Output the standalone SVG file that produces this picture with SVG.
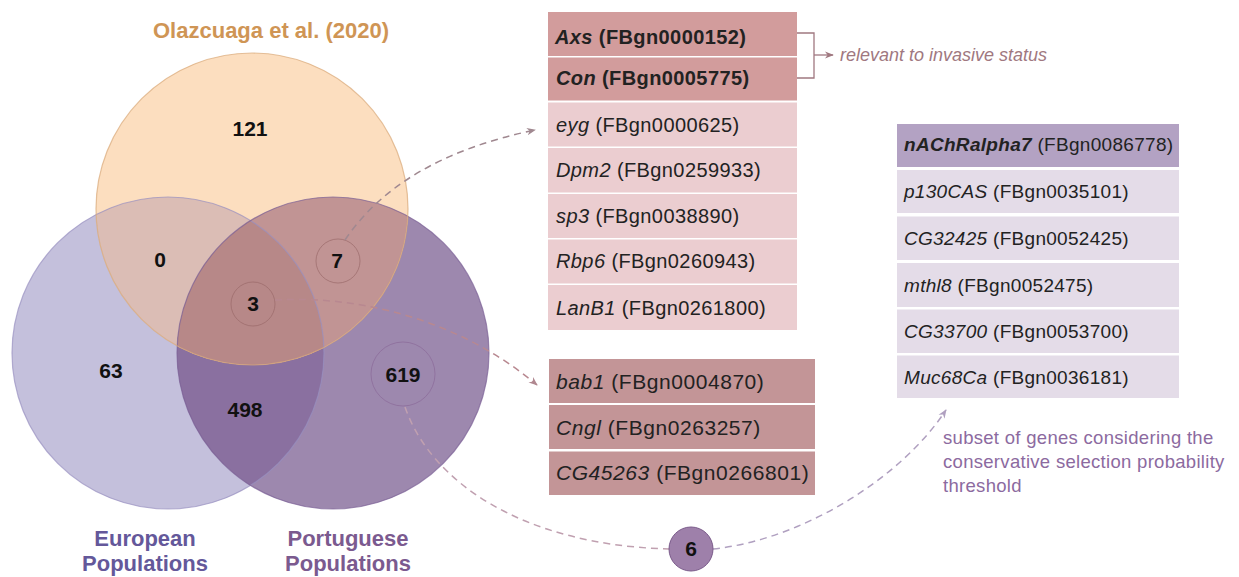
<svg xmlns="http://www.w3.org/2000/svg" width="1239" height="577" viewBox="0 0 1239 577">
<style>
  .num{font-family:"Liberation Sans",Arial,sans-serif;font-weight:bold;font-size:21px;fill:#111;text-anchor:middle}
  .lbl{font-family:"Liberation Sans",Arial,sans-serif;font-weight:bold;font-size:22px;text-anchor:middle}
  .t1{font-family:"Liberation Sans",Arial,sans-serif;font-size:20px;letter-spacing:0.4px;fill:#222}
  .t2{font-family:"Liberation Sans",Arial,sans-serif;font-size:21px;letter-spacing:0.55px;fill:#222}
  .t3{font-family:"Liberation Sans",Arial,sans-serif;font-size:19px;letter-spacing:0.3px;fill:#222}
  .g{font-style:italic}
  .b{font-weight:bold}
  .note{font-family:"Liberation Sans",Arial,sans-serif;font-size:18.5px;letter-spacing:0.3px;fill:#8c6aa0}
  .dash{fill:none;stroke-width:1.5;stroke-dasharray:7 5}
</style>
<defs>
  <clipPath id="cL"><circle cx="168" cy="353" r="156"/></clipPath>
  <clipPath id="cR"><circle cx="333" cy="353" r="156"/></clipPath>
  <marker id="ahRose" viewBox="0 0 10 10" refX="9" refY="5" markerWidth="9" markerHeight="9" markerUnits="userSpaceOnUse" orient="auto">
    <path d="M0,1 L10,5 L0,9 L3,5 Z" fill="#b08890"/>
  </marker>
  <marker id="ahGrey" viewBox="0 0 10 10" refX="9" refY="5" markerWidth="9" markerHeight="9" markerUnits="userSpaceOnUse" orient="auto">
    <path d="M0,1 L10,5 L0,9 L3,5 Z" fill="#a08890"/>
  </marker>
  <marker id="ahLav" viewBox="0 0 10 10" refX="9" refY="5" markerWidth="9" markerHeight="9" markerUnits="userSpaceOnUse" orient="auto">
    <path d="M0,1 L10,5 L0,9 L3,5 Z" fill="#b0a0c0"/>
  </marker>
  <marker id="ahBr" viewBox="0 0 10 10" refX="9" refY="5" markerWidth="9" markerHeight="9" markerUnits="userSpaceOnUse" orient="auto">
    <path d="M0,1 L10,5 L0,9 L3,5 Z" fill="#a07880"/>
  </marker>
</defs>

<g id="venn">
  <g id="set-european"><circle cx="168" cy="353" r="156" fill="#c4c0dc"/></g>
  <g id="set-portuguese"><circle cx="333" cy="353" r="156" fill="#9d88ae"/>
    <circle cx="333" cy="353" r="156" fill="#8a70a0" clip-path="url(#cL)"/></g>
  <g id="set-olazcuaga"><circle cx="252" cy="209" r="156" fill="#fcdebf"/>
    <circle cx="252" cy="209" r="156" fill="#dbbdb5" clip-path="url(#cL)"/>
    <circle cx="252" cy="209" r="156" fill="#c19494" clip-path="url(#cR)"/>
    <g clip-path="url(#cR)"><circle cx="252" cy="209" r="156" fill="#b78888" clip-path="url(#cL)"/></g>
  </g>
  <g id="outlines" fill="none" stroke-width="1.2">
    <circle cx="168" cy="353" r="156" stroke="#9890c0" stroke-opacity="0.7"/>
    <circle cx="333" cy="353" r="156" stroke="#7a6096" stroke-opacity="0.7"/>
    <circle cx="252" cy="209" r="156" stroke="#d8a878" stroke-opacity="0.7"/>
  </g>
</g>

<g id="title"><text x="271" y="38" class="lbl" fill="#cf9555">Olazcuaga et al. (2020)</text></g>
<g id="label-european"><text x="145" y="546" class="lbl" fill="#64589a"><tspan x="145">European</tspan><tspan x="145" y="571">Populations</tspan></text></g>
<g id="label-portuguese"><text x="348" y="546" class="lbl" fill="#7b5a8f"><tspan x="348">Portuguese</tspan><tspan x="348" y="571">Populations</tspan></text></g>

<g id="count-121"><text x="250" y="136" class="num">121</text></g>
<g id="count-0"><text x="160" y="267" class="num">0</text></g>
<g id="count-7"><circle cx="338" cy="261" r="22" fill="none" stroke="#9a6a6a" stroke-opacity="0.7" stroke-width="1"/><text x="337" y="268" class="num">7</text></g>
<g id="count-3"><circle cx="253" cy="304" r="22" fill="none" stroke="#9a6a6a" stroke-opacity="0.7" stroke-width="1"/><text x="253" y="311" class="num">3</text></g>
<g id="count-63"><text x="111" y="378" class="num">63</text></g>
<g id="count-498"><text x="245" y="417" class="num">498</text></g>
<g id="count-619"><circle cx="403" cy="374" r="32" fill="none" stroke="#8a6a98" stroke-opacity="0.7" stroke-width="1"/><text x="403" y="382" class="num">619</text></g>

<g id="connectors">
  <path class="dash" d="M345,240 Q400,158 535,130" stroke="#a08890" marker-end="url(#ahGrey)"/>
  <path class="dash" d="M275,300 C360,295 460,320 537,385" stroke="#b88890" marker-end="url(#ahRose)"/>
  <path class="dash" d="M405,407 C430,480 520,545 669,549" stroke="#c0a0b0"/>
  <path class="dash" d="M713,549 C800,540 900,480 946,410" stroke="#b0a0c0" marker-end="url(#ahLav)"/>
  <path d="M797,33 H814 V78 H797" fill="none" stroke="#a07880" stroke-width="1.3"/>
  <path d="M814,55 H833" fill="none" stroke="#a07880" stroke-width="1.3" marker-end="url(#ahBr)"/>
</g>

<g id="note-invasive"><text x="840" y="61" font-family="Liberation Sans, Arial, sans-serif" font-size="18" font-style="italic" fill="#a07880">relevant to invasive status</text></g>

<g id="table-7">
  <rect x="548" y="12" width="249" height="44" fill="#d29c9c"/>
  <rect x="548" y="57.5" width="249" height="43" fill="#d29c9c"/>
  <rect x="548" y="102.5" width="249" height="44" fill="#ebcdd0"/>
  <rect x="548" y="148" width="249" height="44.5" fill="#ebcdd0"/>
  <rect x="548" y="194" width="249" height="44" fill="#ebcdd0"/>
  <rect x="548" y="239.5" width="249" height="44" fill="#ebcdd0"/>
  <rect x="548" y="285" width="249" height="45" fill="#ebcdd0"/>
  <text x="555" y="44" class="t1 b"><tspan class="g">Axs</tspan> (FBgn0000152)</text>
  <text x="556" y="85" class="t1 b"><tspan class="g">Con</tspan> (FBgn0005775)</text>
  <text x="556" y="132" class="t1"><tspan class="g">eyg</tspan> (FBgn0000625)</text>
  <text x="556" y="177" class="t1"><tspan class="g">Dpm2</tspan> (FBgn0259933)</text>
  <text x="556" y="223" class="t1"><tspan class="g">sp3</tspan> (FBgn0038890)</text>
  <text x="556" y="268" class="t1"><tspan class="g">Rbp6</tspan> (FBgn0260943)</text>
  <text x="556" y="315" class="t1"><tspan class="g">LanB1</tspan> (FBgn0261800)</text>
</g>

<g id="table-3">
  <rect x="549" y="359" width="266" height="44" fill="#c39597"/>
  <rect x="549" y="405" width="266" height="44" fill="#c39597"/>
  <rect x="549" y="451.5" width="266" height="43.5" fill="#c39597"/>
  <text x="556" y="389" class="t2"><tspan class="g">bab1</tspan> (FBgn0004870)</text>
  <text x="556" y="435" class="t2"><tspan class="g">Cngl</tspan> (FBgn0263257)</text>
  <text x="556" y="480" class="t2"><tspan class="g">CG45263</tspan> (FBgn0266801)</text>
</g>

<g id="node-6">
  <circle cx="691" cy="549" r="22" fill="#9e80aa" stroke="#7a5a8a" stroke-width="1"/>
  <text x="691" y="556" class="num">6</text>
</g>

<g id="table-6">
  <rect x="897" y="124" width="282" height="43" fill="#b3a2c3"/>
  <rect x="897" y="170" width="282" height="43" fill="#e4dce8"/>
  <rect x="897" y="216.5" width="282" height="43.5" fill="#e4dce8"/>
  <rect x="897" y="263" width="282" height="44" fill="#e4dce8"/>
  <rect x="897" y="309.5" width="282" height="43.5" fill="#e4dce8"/>
  <rect x="897" y="355.5" width="282" height="42.5" fill="#e4dce8"/>
  <text x="904" y="151" class="t3"><tspan class="g b">nAChRalpha7</tspan> (FBgn0086778)</text>
  <text x="904" y="198" class="t3"><tspan class="g">p130CAS</tspan> (FBgn0035101)</text>
  <text x="904" y="245" class="t3"><tspan class="g">CG32425</tspan> (FBgn0052425)</text>
  <text x="904" y="292" class="t3"><tspan class="g">mthl8</tspan> (FBgn0052475)</text>
  <text x="904" y="338" class="t3"><tspan class="g">CG33700</tspan> (FBgn0053700)</text>
  <text x="904" y="384" class="t3"><tspan class="g">Muc68Ca</tspan> (FBgn0036181)</text>
</g>

<g id="note-subset">
  <text x="943" y="444" class="note">subset of genes considering the</text>
  <text x="943" y="468" class="note">conservative selection probability</text>
  <text x="943" y="492" class="note">threshold</text>
</g>
</svg>
